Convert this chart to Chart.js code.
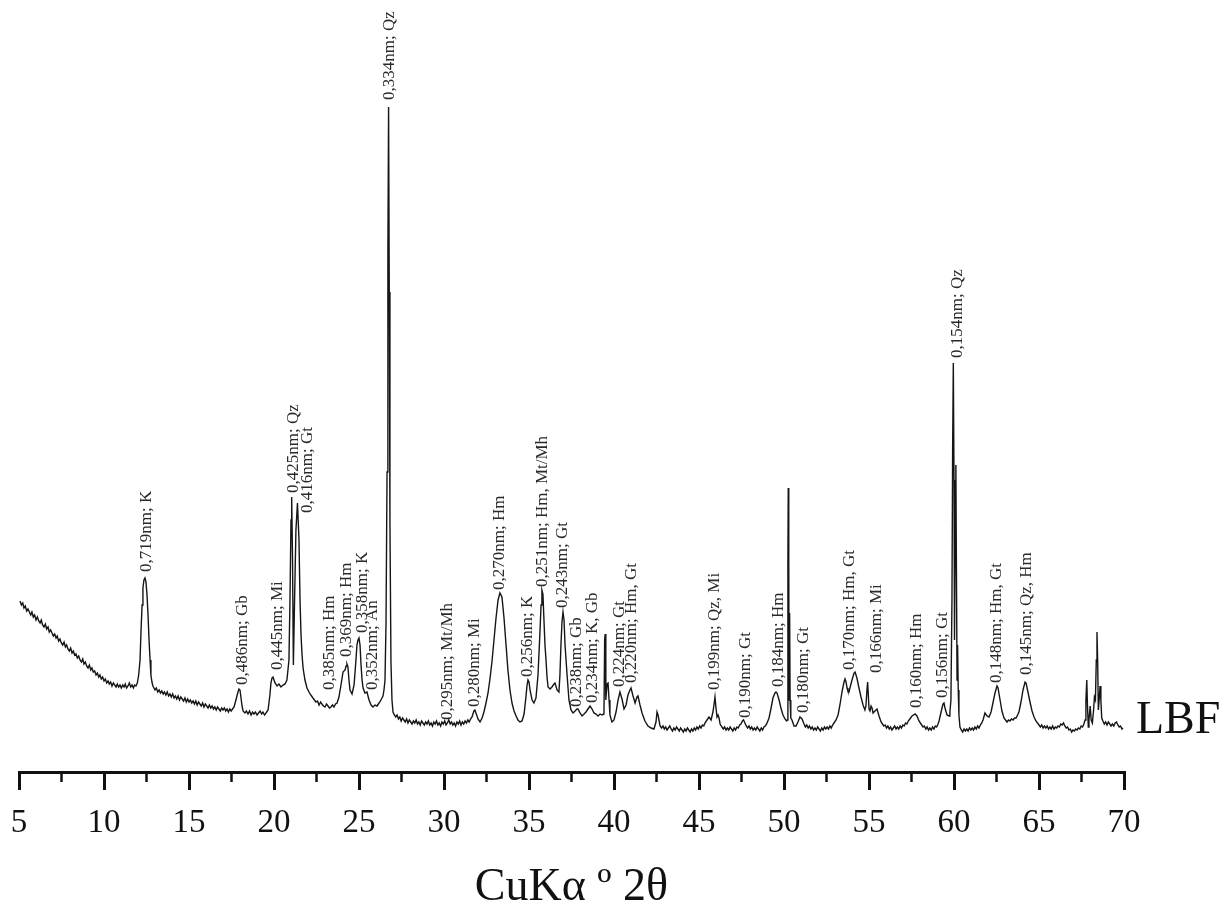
<!DOCTYPE html>
<html>
<head>
<meta charset="utf-8">
<script src="https://cdn.jsdelivr.net/npm/chart.js@4.4.0/dist/chart.umd.min.js"></script>
<style>
html,body{margin:0;padding:0;background:#ffffff;}
#wrap{width:1232px;height:911px;position:relative;}
</style>
</head>
<body>
<div id="wrap"><canvas id="c" width="1232" height="911"></canvas></div>
<script>
// ---------- DATA ----------
const sampleName = 'LBF';
const axisTitle = 'CuKα º 2θ';
const xTicks = [5, 10, 15, 20, 25, 30, 35, 40, 45, 50, 55, 60, 65, 70];

// diffractogram: [2θ (deg), intensity (a.u.)]
const scanPoints = [
[5.06,171],[5.14,167],[5.22,169],[5.29,164],[5.37,166],[5.45,161],[5.53,163],[5.61,160],[5.69,157],[5.76,160],[5.84,155],[5.92,157],[6.00,152],[6.08,155],[6.16,151],[6.24,149],[6.31,152],[6.39,147],[6.47,145],[6.55,148],[6.63,143],[6.71,145],[6.78,140],[6.86,142],[6.94,139],[7.02,136],[7.10,138],[7.18,134],[7.25,136],[7.33,131],[7.41,133],[7.49,129],[7.57,127],[7.65,130],[7.73,125],[7.80,127],[7.88,123],[7.96,121],[8.04,124],[8.12,119],[8.20,121],[8.27,117],[8.35,118],[8.43,114],[8.51,116],[8.59,112],[8.67,110],[8.75,113],[8.82,108],[8.90,110],[8.98,106],[9.06,104],[9.14,107],[9.22,102],[9.29,104],[9.37,100],[9.45,101],[9.53,97],[9.61,99],[9.69,95],[9.76,97],[9.84,93],[9.92,95],[10.00,91],[10.08,93],[10.16,89],[10.24,91],[10.31,88],[10.39,90],[10.47,86],[10.55,89],[10.63,87],[10.71,85],[10.78,88],[10.86,85],[10.94,87],[11.02,84],[11.10,87],[11.18,85],[11.25,88],[11.33,84],[11.41,86],[11.49,89],[11.57,85],[11.65,87],[11.73,84],[11.80,87],[11.88,86],[11.96,89],[12.04,97],
[12.12,112],[12.18,142],[12.24,167],[12.29,184],[12.35,192],[12.41,194],[12.47,190],[12.53,177],[12.59,157],[12.65,132],[12.71,112],[12.76,97],[12.82,90],[12.88,86],
[13.00,82],[13.08,84],[13.16,80],[13.24,82],[13.32,79],[13.40,81],[13.48,78],[13.56,80],[13.64,77],[13.72,80],[13.80,76],[13.88,78],[13.96,75],[14.04,78],[14.12,74],[14.20,76],[14.28,73],[14.36,76],[14.44,72],[14.52,75],[14.60,73],[14.68,71],[14.76,74],[14.84,70],[14.92,73],[15.00,70],[15.08,72],[15.16,69],[15.24,71],[15.32,68],[15.40,71],[15.48,67],[15.56,70],[15.64,68],[15.72,66],[15.80,69],[15.88,65],[15.96,68],[16.04,66],[16.12,64],[16.20,67],[16.28,64],[16.36,66],[16.44,63],[16.52,65],[16.60,62],[16.68,65],[16.76,63],[16.84,61],[16.92,64],[17.00,62],[17.08,64],[17.16,61],[17.24,63],[17.32,60],[17.40,63],[17.48,61],[17.56,63],
[17.65,65],[17.76,72],[17.88,80],[17.94,83],[18.00,82],[18.06,74],[18.12,66],[18.18,61],[18.29,59],[18.38,61],[18.47,58],[18.56,61],[18.65,57],[18.74,60],[18.82,58],[18.91,60],[19.00,57],[19.09,59],[19.18,61],[19.27,58],[19.35,60],[19.44,57],[19.53,59],[19.65,62],[19.76,77],[19.82,89],[19.88,94],[19.94,95],[20.00,92],[20.06,89],[20.18,86],[20.29,88],[20.41,85],[20.53,87],[20.65,88],[20.76,92],
[20.88,112],[20.94,172],[21.00,252],[21.04,275],[21.09,212],[21.14,107],[21.21,172],[21.29,242],[21.38,269],[21.47,232],[21.53,172],[21.59,137],[21.65,117],[21.71,104],[21.82,92],[21.94,84],[22.03,81],[22.12,78],[22.21,76],[22.29,74],[22.38,72],[22.47,70],[22.56,71],[22.65,67],[22.74,70],[22.82,68],[22.91,66],[23.00,65],[23.09,68],[23.18,66],[23.26,64],[23.35,65],[23.44,67],[23.53,65],[23.62,68],[23.71,69],[23.82,75],[23.94,87],[24.06,100],[24.18,102],[24.24,106],[24.29,108],[24.35,105],[24.41,92],[24.47,82],[24.59,78],[24.71,87],[24.82,112],[24.88,127],[24.94,132],[25.00,134],[25.06,127],[25.12,107],[25.18,92],[25.24,84],[25.35,79],[25.47,80],[25.59,72],[25.71,67],[25.82,65],[25.94,67],[26.06,66],[26.18,69],[26.29,72],[26.41,76],[26.47,82],[26.53,92],[26.59,150],[26.65,300],[26.70,520],[26.74,665],[26.78,480],[26.82,250],[26.88,110],[26.94,72],
[27.00,60],[27.08,57],[27.16,55],[27.24,57],[27.32,53],[27.40,55],[27.48,51],[27.56,54],[27.64,52],[27.72,50],[27.80,53],[27.88,49],[27.96,52],[28.04,50],[28.12,48],[28.20,51],[28.28,49],[28.36,52],[28.44,48],[28.52,50],[28.60,47],[28.68,51],[28.76,49],[28.84,47],[28.92,50],[29.00,48],[29.08,51],[29.16,47],[29.24,49],[29.32,46],[29.40,50],[29.48,48],[29.56,51],[29.64,47],[29.72,49],[29.80,46],[29.88,50],[29.96,48],[30.04,51],[30.12,47],[30.20,49],[30.28,52],[30.36,48],[30.44,50],[30.52,47],[30.60,49],[30.68,46],[30.76,50],[30.84,48],[30.92,51],[31.00,47],[31.08,50],[31.16,48],[31.24,51],[31.32,49],[31.40,52],[31.48,50],[31.56,53],
[31.65,55],[31.76,61],[31.82,62],[31.88,59],[32.00,53],[32.12,50],[32.24,54],[32.35,60],[32.47,69],[32.59,79],[32.71,94],[32.82,110],[32.94,132],[33.06,154],[33.18,172],[33.29,179],[33.41,175],[33.53,154],[33.65,127],[33.76,102],[33.88,82],[34.00,69],[34.12,61],[34.24,56],[34.35,52],[34.47,50],[34.59,51],[34.71,58],[34.82,75],[34.88,86],[34.94,92],[35.00,90],[35.06,82],[35.18,72],[35.29,69],[35.41,74],[35.53,97],[35.65,142],[35.71,167],[35.76,182],[35.82,178],[35.88,152],[35.94,127],[36.00,112],[36.06,95],[36.12,85],[36.24,83],[36.35,85],[36.47,88],[36.53,89],[36.65,82],[36.76,80],[36.82,97],[36.88,127],[36.94,150],[37.00,160],[37.06,152],[37.12,127],[37.24,97],[37.35,72],[37.47,62],[37.59,59],[37.71,61],[37.82,63],[37.88,63],[38.00,59],[38.12,56],[38.24,58],[38.35,60],[38.47,63],[38.59,66],[38.71,63],[38.82,59],[38.94,58],[39.06,56],[39.18,58],[39.29,57],[39.41,58],[39.45,132],[39.48,138],[39.52,72],[39.59,88],[39.65,89],[39.71,72],[39.76,57],[39.88,50],
[40.00,52],[40.12,60],[40.24,72],[40.35,80],[40.47,73],[40.59,63],[40.71,67],[40.82,77],[40.94,82],[41.00,84],[41.12,76],[41.24,69],[41.35,75],[41.41,76],[41.53,67],[41.65,59],[41.82,51],[42.00,46],[42.18,44],[42.35,43],[42.47,50],[42.53,60],[42.59,57],
[42.71,46],[42.80,44],[42.88,46],[42.96,43],[43.04,45],[43.12,42],[43.20,44],[43.28,46],[43.36,43],[43.44,41],[43.52,44],[43.60,42],[43.68,45],[43.76,43],[43.84,41],[43.92,44],[44.00,42],[44.08,40],[44.16,43],[44.24,41],[44.32,44],[44.40,42],[44.48,40],[44.56,43],[44.64,41],[44.72,44],[44.80,42],[44.88,45],[44.96,43],[45.04,46],[45.12,44],[45.20,47],[45.28,46],[45.35,49],
[45.47,52],[45.59,55],[45.71,52],[45.82,60],[45.88,67],[45.94,75],[46.00,64],[46.06,55],[46.12,57],[46.18,54],[46.24,48],
[46.35,45],[46.43,43],[46.51,45],[46.59,42],[46.67,44],[46.75,42],[46.83,45],[46.91,43],[46.99,41],[47.07,44],[47.15,42],[47.23,45],[47.31,44],[47.39,47],[47.47,48],[47.55,51],[47.62,52],[47.70,49],[47.78,46],[47.86,44],[47.94,46],[48.02,43],[48.10,45],[48.18,42],[48.26,44],[48.34,42],[48.42,45],[48.50,43],[48.58,41],[48.66,44],[48.74,42],[48.82,45],[48.90,46],[48.98,48],
[49.12,54],[49.24,64],[49.35,74],[49.47,79],[49.53,80],[49.59,79],[49.71,72],[49.82,64],[49.94,57],[50.06,53],[50.15,51],[50.20,52],[50.23,212],[50.25,284],[50.28,212],[50.30,72],[50.33,159],[50.36,72],[50.40,54],[50.47,52],[50.59,46],[50.71,46],[50.82,50],[50.94,55],[51.06,53],
[51.18,48],[51.26,45],[51.34,47],[51.42,44],[51.50,46],[51.58,43],[51.66,45],[51.74,42],[51.82,44],[51.90,42],[51.98,45],[52.06,43],[52.14,41],[52.22,44],[52.30,42],[52.38,45],[52.46,43],[52.54,45],[52.62,43],[52.70,46],[52.78,44],[52.86,47],[52.94,49],
[53.06,52],[53.18,57],[53.29,67],[53.41,80],[53.53,90],[53.59,93],[53.65,90],[53.71,84],[53.76,81],[53.82,80],[53.88,84],[54.00,92],[54.12,99],[54.18,100],[54.29,94],[54.41,84],[54.53,75],[54.65,67],[54.76,62],[54.82,66],[54.88,82],[54.92,90],[54.96,77],[55.00,63],[55.06,61],[55.12,66],[55.18,64],[55.24,59],[55.35,61],[55.47,63],[55.59,56],
[55.71,50],[55.79,48],[55.87,46],[55.95,47],[56.03,44],[56.11,46],[56.19,43],[56.27,45],[56.35,42],[56.43,44],[56.51,46],[56.59,43],[56.67,45],[56.75,43],[56.83,46],[56.91,44],[56.99,47],[57.07,46],[57.15,49],[57.23,48],[57.31,51],
[57.40,53],[57.53,56],[57.71,58],[57.82,56],[57.94,51],
[58.02,49],[58.10,47],[58.18,45],[58.26,46],[58.34,43],[58.42,45],[58.50,42],[58.58,44],[58.66,42],[58.74,45],[58.82,43],[58.90,46],[58.98,45],[59.06,48],
[59.12,51],[59.24,60],[59.35,68],[59.41,69],[59.47,64],[59.59,57],[59.71,56],[59.76,60],[59.82,72],[59.88,172],[59.92,322],[59.96,409],[60.00,292],[60.03,132],[60.07,232],[60.11,307],[60.14,212],[60.18,92],[60.21,127],[60.25,82],[60.29,57],
[60.35,45],[60.43,42],[60.51,40],[60.59,43],[60.67,41],[60.75,43],[60.83,41],[60.91,44],[60.99,42],[61.07,44],[61.15,42],[61.23,45],[61.31,43],[61.39,46],[61.47,44],[61.55,47],[61.63,49],
[61.71,52],[61.82,59],[61.94,56],[62.06,55],[62.18,60],[62.29,69],[62.41,79],[62.53,86],[62.59,84],[62.71,72],[62.82,61],[62.94,54],[63.03,52],[63.12,50],[63.21,52],[63.29,51],[63.38,53],[63.47,52],[63.56,54],[63.65,54],[63.74,57],[63.82,60],[63.94,70],[64.06,82],[64.18,90],[64.24,89],[64.35,80],[64.47,70],[64.59,61],[64.71,55],[64.82,51],[64.91,49],
[65.00,47],[65.08,45],[65.16,47],[65.24,44],[65.32,46],[65.40,44],[65.48,46],[65.56,43],[65.64,45],[65.72,43],[65.80,46],[65.88,43],[65.96,45],[66.04,44],[66.12,46],[66.20,45],[66.28,48],[66.36,47],[66.44,49],[66.52,46],[66.60,44],[66.68,45],[66.76,42],[66.84,43],[66.92,40],[67.00,42],[67.08,41],[67.16,43],[67.24,42],[67.32,44],[67.40,43],[67.48,46],[67.56,45],[67.64,48],
[67.71,52],[67.76,72],[67.81,92],[67.85,67],[67.90,45],[67.94,52],[68.01,66],[68.07,52],[68.14,49],[68.21,62],[68.26,75],[68.32,72],[68.37,112],[68.41,140],[68.45,112],[68.49,62],[68.54,72],[68.59,86],[68.64,72],[68.69,54],
[68.76,51],[68.84,48],[68.92,50],[69.00,47],[69.08,50],[69.16,48],[69.24,46],[69.32,48],[69.40,46],[69.48,49],[69.56,50],[69.64,47],[69.72,45],[69.80,46],[69.88,43],[69.94,44]
];

// peak annotations: d-spacing; phase
const peakLabels = ['0,719nm; K','0,486nm; Gb','0,445nm; Mi','0,425nm; Qz','0,416nm; Gt','0,385nm; Hm','0,369nm; Hm','0,358nm; K','0,352nm; An','0,334nm; Qz','0,295nm; Mt/Mh','0,280nm; Mi','0,270nm; Hm','0,256nm; K','0,251nm; Hm, Mt/Mh','0,243nm; Gt','0,238nm; Gb','0,234nm; K, Gb','0,224nm; Gt','0,220nm; Hm, Gt','0,199nm; Qz, Mi','0,190nm; Gt','0,184nm; Hm','0,180nm; Gt','0,170nm; Hm, Gt','0,166nm; Mi','0,160nm; Hm','0,156nm; Gt','0,154nm; Qz','0,148nm; Hm, Gt','0,145nm; Qz, Hm'];
const labelTwoTheta = [12.53,18.12,20.18,21.12,22.0,23.29,24.29,25.18,25.82,26.82,30.18,31.82,33.29,34.94,35.82,37.00,37.82,38.71,40.35,41.06,45.94,47.71,49.65,51.12,53.88,55.47,57.82,59.35,60.18,62.53,64.29];
const labelIntensity = [200,87,102,279,259,82,115,139,82,672,52,65,182,95,185,164,65,69,85,89,82,54,85,59,102,99,64,74,414,89,97];

// ---------- CHART ----------
const serif = "'Liberation Serif', 'Times New Roman', serif";

const minorTickPlugin = {
  id: 'minorTicks',
  afterDraw(chart) {
    const xs = chart.scales.x, ctx = chart.ctx;
    const y0 = chart.chartArea.bottom;
    ctx.save();
    ctx.strokeStyle = '#111';
    ctx.lineWidth = 2.5;
    for (let i = 0; i < xTicks.length - 1; i++) {
      const v = (xTicks[i] + xTicks[i + 1]) / 2;
      const px = xs.getPixelForValue(v);
      ctx.beginPath();
      ctx.moveTo(px, y0);
      ctx.lineTo(px, y0 + 10);
      ctx.stroke();
    }
    ctx.restore();
  }
};

const peakLabelPlugin = {
  id: 'peakLabels',
  afterDatasetsDraw(chart) {
    const xs = chart.scales.x, ys = chart.scales.y, ctx = chart.ctx;
    ctx.save();
    ctx.fillStyle = '#2a2a2a';
    ctx.font = "17px " + serif;
    ctx.textAlign = 'left';
    ctx.textBaseline = 'middle';
    peakLabels.forEach((t, i) => {
      const px = xs.getPixelForValue(labelTwoTheta[i]);
      const py = ys.getPixelForValue(labelIntensity[i]);
      ctx.save();
      ctx.translate(px, py);
      ctx.rotate(-Math.PI / 2);
      ctx.fillText(t, 0, 0);
      ctx.restore();
    });
    // sample name
    ctx.fillStyle = '#111';
    ctx.font = "46px " + serif;
    ctx.textBaseline = 'alphabetic';
    ctx.fillText(sampleName, chart.chartArea.right + 12, ys.getPixelForValue(39));
    ctx.restore();
  }
};

new Chart(document.getElementById('c'), {
  type: 'line',
  data: {
    datasets: [{
      label: sampleName,
      data: scanPoints.map(p => ({x: p[0], y: p[1]})),
      borderColor: '#151515',
      borderWidth: 1.4,
      pointRadius: 0,
      tension: 0,
      fill: false
    }]
  },
  options: {
    responsive: false,
    animation: false,
    events: [],
    layout: {padding: {left: 19, right: 108, top: 0, bottom: 0}},
    plugins: {legend: {display: false}, tooltip: {enabled: false}},
    scales: {
      x: {
        type: 'linear',
        min: xTicks[0],
        max: xTicks[xTicks.length - 1],
        afterBuildTicks(s) { s.ticks = xTicks.map(v => ({value: v})); },
        grid: {display: true, drawOnChartArea: false, drawTicks: true, tickLength: 18, lineWidth: 3, color: '#111'},
        border: {display: true, width: 3, color: '#111'},
        ticks: {font: {family: serif, size: 33, lineHeight: 1.2}, color: '#111', padding: 14, maxRotation: 0, autoSkip: false},
        title: {display: true, text: axisTitle, color: '#111', font: {family: serif, size: 46, lineHeight: 1}, padding: 0},
        afterFit(s) { s.height = 139; s.paddingLeft = 0; s.paddingRight = 0; }
      },
      y: {display: false, min: 0, max: 772}
    }
  },
  plugins: [minorTickPlugin, peakLabelPlugin]
});
</script>
</body>
</html>
